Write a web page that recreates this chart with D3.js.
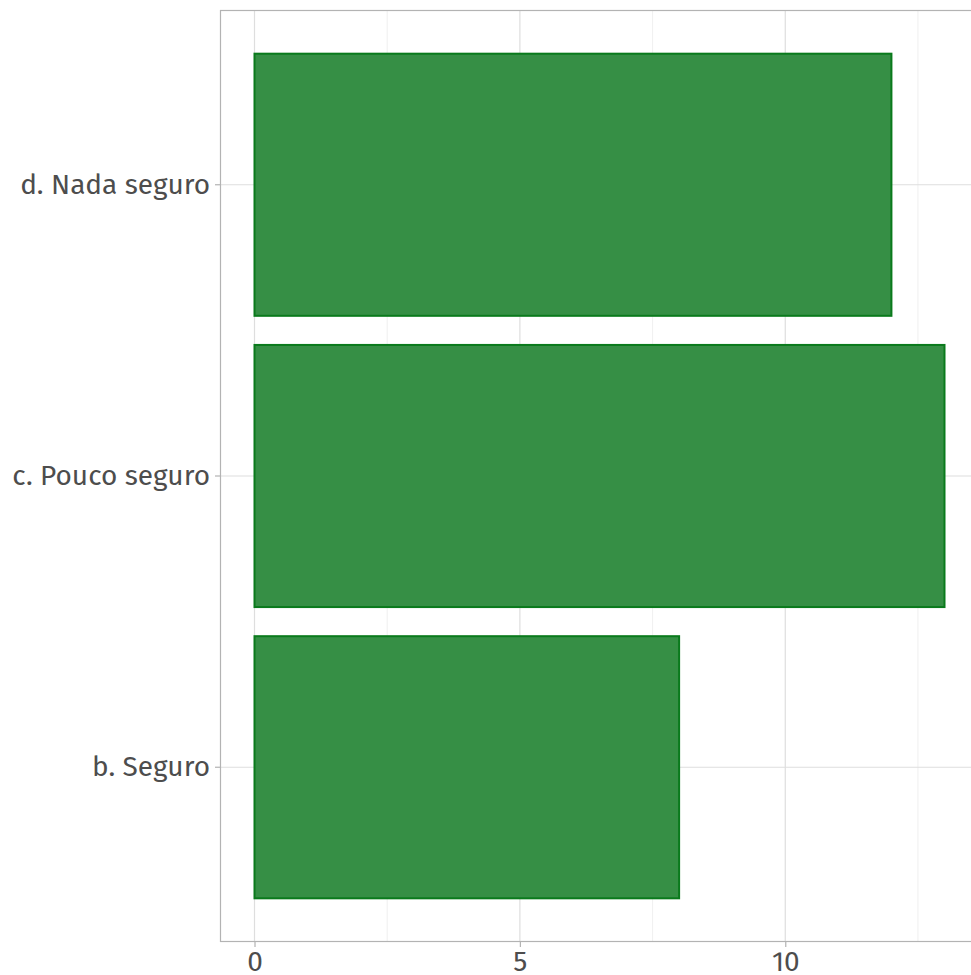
<!DOCTYPE html>
<html><head><meta charset="utf-8">
<script src="https://cdn.jsdelivr.net/npm/d3@7"></script>
<style>body{margin:0;background:#fff}svg{display:block}</style>
</head><body>
<script>
const categories = ["b. Seguro", "c. Pouco seguro", "d. Nada seguro"];
const values = [8, 13, 12];
const xTicks = [0, 5, 10];
const xMinor = [2.5, 7.5, 12.5];

const W = 971, H = 975;
const panel = {left: 220, top: 10, bottom: 942};
const x = d3.scaleLinear().domain([-0.65, 13.65]).range([220, 979]);
const y = d3.scaleBand().domain(categories.slice().reverse()).range([panel.top, panel.bottom]).paddingInner(0.1).paddingOuter(0.15);

const svg = d3.select("body").append("svg").attr("width", W).attr("height", H);
const font = "'Fira Sans','Open Sans','Noto Sans',sans-serif";

// grid
svg.append("g").selectAll("line").data(xMinor).join("line")
  .attr("x1", d => x(d)).attr("x2", d => x(d)).attr("y1", panel.top).attr("y2", panel.bottom)
  .attr("stroke", "#ececec").attr("stroke-width", 0.8);
svg.append("g").selectAll("line").data(xTicks).join("line")
  .attr("x1", d => x(d)).attr("x2", d => x(d)).attr("y1", panel.top).attr("y2", panel.bottom)
  .attr("stroke", "#dedede").attr("stroke-width", 1.2);
svg.append("g").selectAll("line").data(categories).join("line")
  .attr("x1", panel.left).attr("x2", 979).attr("y1", d => y(d) + y.bandwidth()/2).attr("y2", d => y(d) + y.bandwidth()/2)
  .attr("stroke", "#dedede").attr("stroke-width", 1.2);

// bars
svg.append("g").selectAll("rect").data(categories).join("rect")
  .attr("x", x(0)).attr("y", d => y(d))
  .attr("width", (d, i) => x(values[i]) - x(0)).attr("height", y.bandwidth())
  .attr("fill", "#368f45").attr("stroke", "#0a7a1c").attr("stroke-width", 2);

// panel border
svg.append("rect").attr("x", panel.left + 0.5).attr("y", panel.top + 0.5)
  .attr("width", 979 - panel.left).attr("height", panel.bottom - panel.top - 1)
  .attr("fill", "none").attr("stroke", "#b3b3b3").attr("stroke-width", 1.2);

// axes
const yAxis = d3.axisLeft(y).tickSize(5).tickPadding(5);
const gy = svg.append("g").attr("transform", `translate(${panel.left},0)`).call(yAxis);
const xAxis = d3.axisBottom(x).tickValues(xTicks).tickSize(5).tickPadding(4);
const gx = svg.append("g").attr("transform", `translate(0,${panel.bottom})`).call(xAxis);
[gy, gx].forEach(g => {
  g.select(".domain").remove();
  g.selectAll(".tick line").attr("stroke", "#b3b3b3").attr("stroke-width", 1.2);
  g.selectAll(".tick text").attr("fill", "#4d4d4d").style("font-family", font).style("font-size", "28px");
});
</script>
</body></html>
